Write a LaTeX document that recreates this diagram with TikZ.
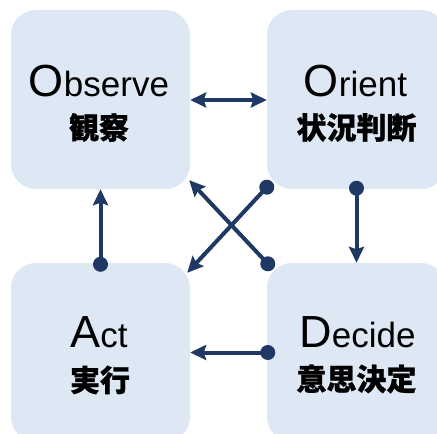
\documentclass[tikz,border=0pt]{standalone}
\usepackage{fontspec}
\setmainfont{Liberation Sans}
\newfontfamily\cjk[BoldFeatures={FakeBold=0.8}]{Noto Sans CJK JP}
\usetikzlibrary{arrows.meta,calc}
\definecolor{boxfill}{RGB}{222,232,245}
\definecolor{navy}{RGB}{31,56,100}
\tikzset{
  oodabox/.style={fill=boxfill, draw=none, rounded corners=25pt, minimum width=179pt, minimum height=179pt, inner sep=0pt},
  entext/.style={anchor=base, inner sep=0pt, font=\fontsize{35}{40}\selectfont},
  jptext/.style={inner sep=0pt, font=\cjk\bfseries\fontsize{30}{34}\selectfont},
  conn/.style={draw=navy, line width=4pt, -{Stealth[length=16pt,width=15pt,inset=2.5pt]}},
  both/.style={draw=navy, line width=4pt, {Stealth[length=16pt,width=15pt,inset=2.5pt]}-{Stealth[length=16pt,width=15pt,inset=2.5pt]}},
  dot/.style={fill=navy},
}
\newcommand{\initcap}[1]{{\fontsize{45}{50}\selectfont #1}}
\begin{document}
\begin{tikzpicture}[x=1pt,y=-1pt]
\useasboundingbox (0,0) rectangle (437,434);
\clip (0,0) rectangle (437,434);
% boxes
\node[oodabox] (obs) at (100.5,99.5) {};
\node[oodabox] (ori) at (356.5,99.5) {};
\node[oodabox] (act) at (100.5,352.5) {};
\node[oodabox] (dec) at (356.5,352.5) {};
% texts
\node[entext] (obsE) at (99,96) {\initcap{O}bserve};
\node[jptext] (obsJ) at (99,127.5) {観察};
\node[entext] (oriE) at (355.5,96.5) {\initcap{O}rient};
\node[jptext] (oriJ) at (356.5,127.5) {状況判断};
\node[entext] (actE) at (99,347) {\initcap{A}ct};
\node[jptext] (actJ) at (100,380) {実行};
\node[entext] (decE) at (357.5,347) {\initcap{D}ecide};
\node[jptext] (decJ) at (356.5,379) {意思決定};
% connector end points
\coordinate (h1) at (obs.east |- 0,100);
\coordinate (h2) at (ori.west |- 0,100);
\coordinate (v1s) at ($(act.north)+(0,1.5)$);
\coordinate (v1e) at (obs.south);
\coordinate (v2s) at ($(ori.south)+(0,-1)$);
\coordinate (v2e) at (dec.north);
\coordinate (h3s) at ($(dec.west)+(1,0)$);
\coordinate (h3e) at (act.east);
\coordinate (d1s) at ($(ori.south west)+(0,-2)$);
\coordinate (d1e) at ($(act.north east)+(-3,10)$);
\coordinate (d2s) at ($(dec.north west)+(1,1)$);
\coordinate (d2e) at ($(obs.south east)+(-1,-9)$);
% connectors
\draw[both] (h1) -- (h2);
\draw[conn] (v1s) -- (v1e);
\fill[dot] (v1s) circle (7.5pt);
\draw[conn] (v2s) -- (v2e);
\fill[dot] (v2s) circle (7.5pt);
\draw[conn] (h3s) -- (h3e);
\fill[dot] (h3s) circle (7.5pt);
\draw[conn] (d1s) -- (d1e);
\fill[dot] (d1s) circle (7.5pt);
\draw[conn] (d2s) -- (d2e);
\fill[dot] (d2s) circle (7.5pt);
\end{tikzpicture}
\end{document}
